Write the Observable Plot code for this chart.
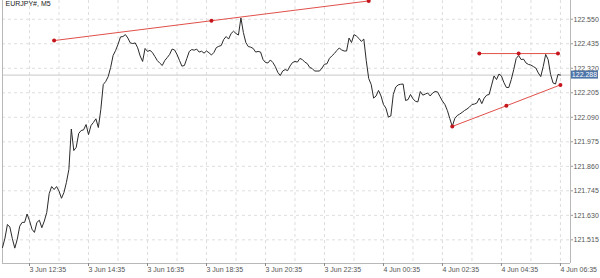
<!DOCTYPE html>
<html><head><meta charset="utf-8">
<script src="https://cdn.jsdelivr.net/npm/d3@7"></script>
<script src="https://cdn.jsdelivr.net/npm/@observablehq/plot@0.6"></script>
<style>
html,body{margin:0;padding:0;background:#fff;}
#chart svg{display:block;background:linear-gradient(to bottom,#fff 0,#fff 273px,#f2f2f2 273px);}
</style></head><body><div id="chart"></div>
<script>
const symbol = "EURJPY#, M5";
const firstBar = "2020-06-03T11:40:00Z";
const barMinutes = 5;
const closes = [
121.479,121.523,121.587,121.575,121.521,121.476,121.517,121.579,121.597,121.597,121.636,
121.605,121.565,121.550,121.597,121.607,121.572,121.603,121.643,121.732,121.765,
121.751,121.765,121.744,121.710,121.737,121.784,121.845,122.035,121.934,121.949,
122.014,122.028,122.031,122.056,122.009,122.051,122.066,122.083,122.042,122.126,
122.244,122.258,122.281,122.324,122.380,122.403,122.432,122.467,122.469,122.478,
122.462,122.439,122.436,122.439,122.416,122.378,122.352,122.413,122.399,122.404,
122.394,122.375,122.356,122.344,122.333,122.356,122.370,122.385,122.410,122.406,
122.385,122.357,122.330,122.333,122.366,122.399,122.408,122.405,122.410,122.396,
122.400,122.391,122.401,122.393,122.382,122.394,122.417,122.423,122.427,122.455,
122.469,122.457,122.483,122.494,122.483,122.476,122.556,122.488,122.441,122.422,
122.419,122.413,122.396,122.399,122.396,122.361,122.347,122.345,122.359,122.347,
122.328,122.301,122.286,122.307,122.314,122.309,122.331,122.347,122.352,122.349,
122.366,122.361,122.349,122.342,122.324,122.319,122.307,122.307,122.307,122.321,
122.339,122.341,122.366,122.378,122.389,122.403,122.415,122.406,122.401,122.401,
122.462,122.441,122.478,122.471,122.460,122.446,122.457,122.356,122.272,122.244,
122.180,122.190,122.216,122.190,122.150,122.133,122.091,122.096,122.197,122.232,
122.242,122.245,122.246,122.169,122.173,122.197,122.177,122.165,122.162,122.211,
122.194,122.199,122.204,122.190,122.204,122.211,122.209,122.187,122.166,122.150,
122.122,122.084,122.047,122.084,122.098,122.105,122.113,122.122,122.129,122.138,
122.150,122.152,122.157,122.180,122.154,122.180,122.194,122.197,122.241,122.284,
122.267,122.293,122.284,122.253,122.230,122.230,122.267,122.314,122.366,122.380,
122.361,122.363,122.345,122.338,122.335,122.328,122.321,122.298,122.281,122.328,
122.385,122.361,122.291,122.251,122.246,122.291,122.288
];
const currentPrice = 122.288;
const xDomain = ["2020-06-03T11:40:00Z", "2020-06-04T06:55:30Z"];
const yDomain = [121.404, 122.638];
const yTicks = [122.550,122.435,122.320,122.205,122.090,121.975,121.860,121.745,121.630,121.515];
const xLabelTicks = ["2020-06-03T12:35:00Z","2020-06-03T14:35:00Z","2020-06-03T16:35:00Z","2020-06-03T18:35:00Z","2020-06-03T20:35:00Z",
  "2020-06-03T22:35:00Z","2020-06-04T00:35:00Z","2020-06-04T02:35:00Z","2020-06-04T04:35:00Z","2020-06-04T06:35:00Z"];
const xGridTicks = ["2020-06-03T12:35:00Z","2020-06-03T13:35:00Z","2020-06-03T14:35:00Z","2020-06-03T15:35:00Z","2020-06-03T16:35:00Z",
  "2020-06-03T17:35:00Z","2020-06-03T18:35:00Z","2020-06-03T19:35:00Z","2020-06-03T20:35:00Z","2020-06-03T21:35:00Z",
  "2020-06-03T22:35:00Z","2020-06-03T23:35:00Z","2020-06-04T00:35:00Z","2020-06-04T01:35:00Z","2020-06-04T02:35:00Z",
  "2020-06-04T03:35:00Z","2020-06-04T04:35:00Z","2020-06-04T05:35:00Z","2020-06-04T06:35:00Z"];
const trendId = ["upper","upper","upper","flat","flat","flat","lower","lower","lower"];
const trendTime = ["2020-06-03T13:25:00Z","2020-06-03T18:45:00Z","2020-06-04T00:05:00Z",
  "2020-06-04T03:50:00Z","2020-06-04T05:10:00Z","2020-06-04T06:30:00Z",
  "2020-06-04T02:55:00Z","2020-06-04T04:45:00Z","2020-06-04T06:35:00Z"];
const trendPrice = [122.450,122.543,122.636, 122.389,122.389,122.389, 122.047,122.144,122.242];

const t0 = new Date(firstBar);
const series = closes.map((c, i) => ({time: new Date(+t0 + i * barMinutes * 60000), close: c}));
const trends = trendId.map((id, i) => ({id, time: new Date(trendTime[i]), price: trendPrice[i]}));
const fmt = d3.utcFormat("%-d %b %H:%M");
const xd = xDomain.map(d => new Date(d));

const plot = Plot.plot({
  width: 600, height: 278,
  marginLeft: 2, marginRight: 30, marginTop: 0, marginBottom: 15,
  style: {fontFamily: "'Liberation Sans', Arial, sans-serif", fontSize: "7px", color: "#555", background: "transparent", overflow: "visible"},
  x: {type: "utc", domain: xd},
  y: {domain: yDomain},
  marks: [
    Plot.gridX(xGridTicks.map(d => new Date(d)), {stroke: "#dedede", strokeOpacity: 1, strokeDasharray: "3,3"}),
    Plot.gridY(yTicks, {stroke: "#dedede", strokeOpacity: 1, strokeDasharray: "3,3"}),
    Plot.ruleY([currentPrice], {stroke: "#c8c8c8"}),
    Plot.ruleX(xd, {stroke: "#b8b8b8"}),
    Plot.ruleY([yDomain[0]], {stroke: "#b8b8b8"}),
    Plot.line(series, {x: "time", y: "close", stroke: "#2a2a2a", strokeWidth: 1}),
    Plot.line(trends, {x: "time", y: "price", z: "id", stroke: "#e0504a", strokeWidth: 1}),
    Plot.dot(trends, {x: "time", y: "price", r: 2, fill: "#c4161c", stroke: "none"}),
    Plot.axisX(xLabelTicks.map(d => new Date(d)), {anchor: "bottom", tickFormat: fmt, textAnchor: "start", tickSize: 3, tickPadding: 1, stroke: "#888", fill: "#555", label: null}),
    Plot.axisY(yTicks, {anchor: "right", tickSize: 2, tickPadding: 1, tickFormat: d3.format(".3f"), label: null, fill: "#555", stroke: "#999"}),
    Plot.text([symbol], {frameAnchor: "top-left", dx: 3, dy: 1, lineAnchor: "top", textAnchor: "start", fill: "#222", fontSize: 7})
  ]
});

document.getElementById("chart").appendChild(plot);

// current price label box on the right axis
const ys = plot.scale("y"), xs = plot.scale("x");
const py = ys.apply(currentPrice);
const px = xs.range[1] + 1;
const svg = d3.select(plot);
const g = svg.append("g");
g.append("rect").attr("x", px).attr("y", py - 4).attr("width", 27).attr("height", 8).attr("fill", "#4d74a8");
g.append("text").attr("x", px + 13.5).attr("y", py).attr("dy", "0.35em").attr("text-anchor", "middle")
  .attr("fill", "#fff").attr("font-size", 7).text(d3.format(".3f")(currentPrice));
</script></body></html>
